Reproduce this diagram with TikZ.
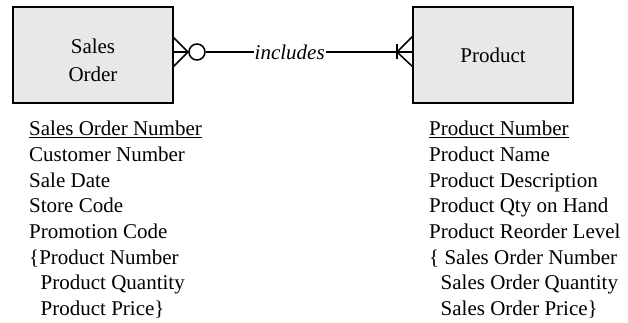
\documentclass[tikz,border=0pt]{standalone}
\usepackage{fontspec}
\setmainfont{Liberation Serif}
\begin{document}
\begin{tikzpicture}[x=1pt,y=1pt,
  entity/.style={draw=black,line width=1.6pt,fill=boxgray,minimum width=160pt,minimum height=96pt,inner sep=0pt},
  boxtxt/.style={font=\fontsize{21}{25.6}\selectfont,inner sep=0pt,anchor=base},
  attr/.style={font=\fontsize{21}{25.6}\selectfont,inner sep=0pt,anchor=base west},
  rel/.style={line width=1.5pt},
  reltxt/.style={font=\fontsize{21}{25.6}\selectfont\itshape,fill=white,inner sep=1pt}]
\definecolor{boxgray}{HTML}{E8E8E8}
\useasboundingbox (0,0) rectangle (628,-323);
% entities
\node[entity] (so) at (93,-55) {};
\node[entity] (pr) at (493,-55) {};
\node[boxtxt] (so1) at (93,-54) {Sales};
\node[boxtxt] (so2) at (93,-81.7) {Order};
\node[boxtxt] (prt) at (493,-62.7) {Product};
% relationship coordinates
\coordinate (soA) at (173,-52);
\coordinate (soT) at (173,-37);
\coordinate (soB) at (173,-67);
\coordinate (soP) at (188,-52);
\coordinate (prA) at (413,-52);
\coordinate (prT) at (413,-36);
\coordinate (prB) at (413,-67);
\coordinate (prP) at (397,-52);
\node[circle,draw,line width=1.5pt,minimum size=16pt,inner sep=0pt] (zero) at (197,-52) {};
% connector
\draw[rel] (soA) -- (zero.west);
\draw[rel] (soT) -- (soP) -- (soB);
\draw[rel] (zero.east) -- (prA) node[reltxt,pos=0.405] (inc) {includes};
\draw[rel] (prT) -- (prP) -- (prB);
\draw[rel] ([yshift=7.5pt]prP) -- ([yshift=-7.5pt]prP);
% attributes of Sales Order
\node[attr] (a1) at (29,-136) {\underline{Sales Order Number}};
\node[attr] (a2) at (29,-161.6) {Customer Number};
\node[attr] (a3) at (29,-187.2) {Sale Date};
\node[attr] (a4) at (29,-212.8) {Store Code};
\node[attr] (a5) at (29,-238.4) {Promotion Code};
\node[attr] (a6) at (29,-264) {\{Product Number};
\node[attr] (a7) at (40.5,-289.6) {Product Quantity};
\node[attr] (a8) at (40.5,-315.2) {Product Price\}};
% attributes of Product
\node[attr] (b1) at (429,-136) {\underline{Product Number}};
\node[attr] (b2) at (429,-161.6) {Product Name};
\node[attr] (b3) at (429,-187.2) {Product Description};
\node[attr] (b4) at (429,-212.8) {Product Qty on Hand};
\node[attr] (b5) at (429,-238.4) {Product Reorder Level};
\node[attr] (b6) at (429,-264) {\{ Sales Order Number};
\node[attr] (b7) at (440.5,-289.6) {Sales Order Quantity};
\node[attr] (b8) at (440.5,-315.2) {Sales Order Price\}};
\end{tikzpicture}
\end{document}
